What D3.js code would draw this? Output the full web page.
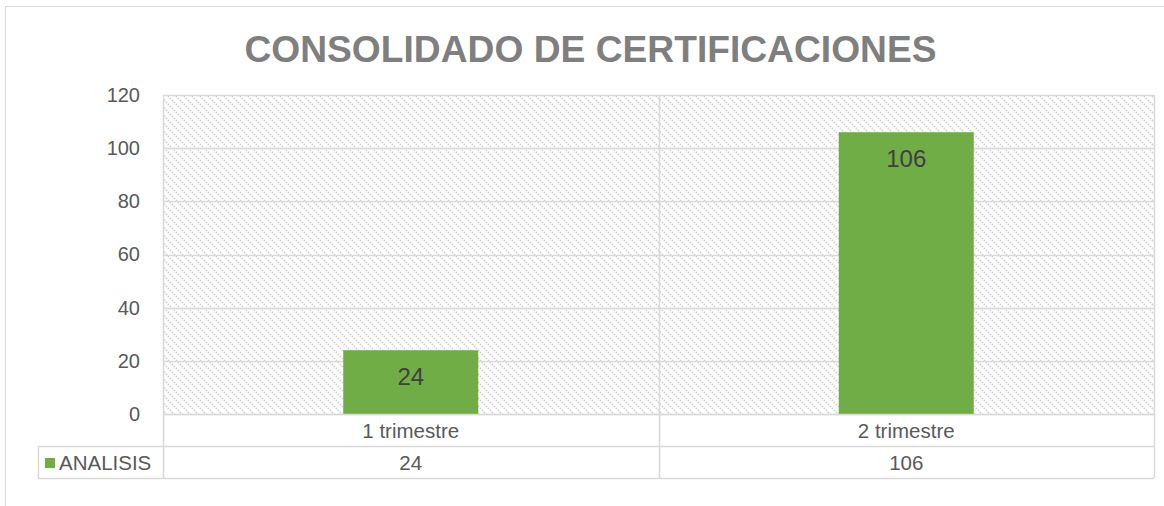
<!DOCTYPE html>
<html><head><meta charset="utf-8">
<script src="https://cdn.jsdelivr.net/npm/d3@7"></script>
<style>body{margin:0;background:#fff}svg{display:block;font-family:"Liberation Sans",Arial,sans-serif}</style>
</head><body><svg id="c" width="1164" height="506"></svg>
<script>
const categories = ["1 trimestre", "2 trimestre"];
const seriesName = "ANALISIS";
const values = [24, 106];
const yTicks = [0, 20, 40, 60, 80, 100, 120];
const title = "CONSOLIDADO DE CERTIFICACIONES";

const svg = d3.select("#c");
const L = 163, R = 1154, T = 95, B = 414, rowH = 32, legL = 38;
const grid = "#d9d9d9";

const defs = svg.append("defs");
const pat = defs.append("pattern").attr("id","hatch").attr("patternUnits","userSpaceOnUse")
  .attr("width",8).attr("height",8);
pat.append("rect").attr("width",8).attr("height",8).attr("fill","#fff");
pat.append("path").attr("d","M-2,-2 L10,10 M-2,6 L2,10 M6,-2 L10,2").attr("stroke","#d2d2d2")
  .attr("stroke-width",2).attr("stroke-dasharray","1.4,1.4");

// outer chart border
svg.append("rect").attr("x",5.5).attr("y",6.5).attr("width",1170).attr("height",520)
  .attr("fill","none").attr("stroke",grid);

svg.append("text").attr("x",590.5).attr("y",62).attr("text-anchor","middle")
  .attr("font-size",37.2).attr("font-weight","bold").attr("fill","#7f7f7f").text(title);

const x = d3.scaleBand().domain(categories).range([L,R]).paddingInner(0).paddingOuter(0);
const y = d3.scaleLinear().domain([0,120]).range([B,T]);

svg.append("rect").attr("x",L).attr("y",T).attr("width",R-L).attr("height",B-T).attr("fill","url(#hatch)");

// gridlines
svg.append("g").selectAll("line").data(yTicks).join("line")
  .attr("x1",L).attr("x2",R).attr("y1",d=>Math.round(y(d))+0.5).attr("y2",d=>Math.round(y(d))+0.5)
  .attr("stroke",grid).attr("stroke-width",1.5);

// y axis labels
const ya = svg.append("g").attr("transform",`translate(${L},0)`)
  .call(d3.axisLeft(y).tickValues(yTicks).tickSize(0).tickPadding(23));
ya.select(".domain").remove();
ya.selectAll("text").attr("font-size",20).attr("fill","#595959").attr("font-family","Liberation Sans, Arial, sans-serif");

// bars
const bw = x.bandwidth()*0.2725;
svg.append("g").selectAll("rect").data(values).join("rect")
  .attr("x",(d,i)=>x(categories[i])+x.bandwidth()/2-bw/2).attr("width",bw)
  .attr("y",d=>y(d)).attr("height",d=>B-y(d)).attr("fill","#70ad47");
svg.append("g").selectAll("text").data(values).join("text")
  .attr("x",(d,i)=>x(categories[i])+x.bandwidth()/2).attr("y",d=>y(d)+35)
  .attr("text-anchor","middle").attr("font-size",24).attr("fill","#404040").text(d=>d);

// data table
const tl = svg.append("g").attr("stroke",grid).attr("stroke-width",1.5);
[B, B+rowH, B+2*rowH].forEach((yy,i)=>{
  tl.append("line").attr("x1",i===0?L:legL).attr("x2",R).attr("y1",yy+0.5).attr("y2",yy+0.5);
});
tl.append("line").attr("x1",legL+0.5).attr("x2",legL+0.5).attr("y1",B+rowH).attr("y2",B+2*rowH);
const vx = [L, ...categories.slice(1).map(c=>x(c)), R];
vx.forEach(v=>tl.append("line").attr("x1",Math.round(v)+0.5).attr("x2",Math.round(v)+0.5).attr("y1",T).attr("y2",B+2*rowH));

svg.append("g").selectAll("text").data(categories).join("text")
  .attr("x",d=>x(d)+x.bandwidth()/2).attr("y",B+rowH/2+7.5).attr("text-anchor","middle")
  .attr("font-size",20.5).attr("fill","#595959").text(d=>d);
svg.append("g").selectAll("text").data(values).join("text")
  .attr("x",(d,i)=>x(categories[i])+x.bandwidth()/2).attr("y",B+rowH*1.5+7.5).attr("text-anchor","middle")
  .attr("font-size",20.5).attr("fill","#595959").text(d=>d);

svg.append("rect").attr("x",45).attr("y",B+rowH+12).attr("width",10).attr("height",10).attr("fill","#70ad47");
svg.append("text").attr("x",59).attr("y",B+rowH*1.5+7.5).attr("font-size",20.5).attr("fill","#595959").text(seriesName);
</script></body></html>
